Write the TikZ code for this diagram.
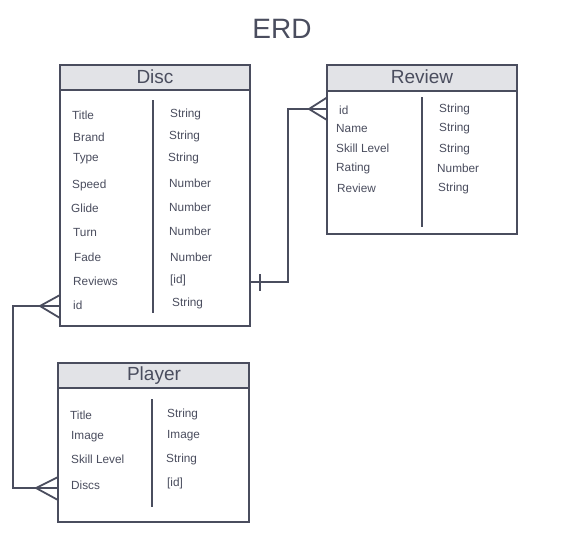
\documentclass[tikz,border=0pt]{standalone}
\usepackage{fontspec}
\setmainfont{Liberation Sans}
\definecolor{ink}{HTML}{4A4D5E}
\definecolor{head}{HTML}{E2E3E7}
\begin{document}
\begin{tikzpicture}[x=1pt,y=-1pt,
  box/.style={draw=ink,line width=1.8pt,fill=white,minimum width=#1,inner sep=0pt,outer sep=0pt},
  hdr/.style={draw=ink,line width=1.8pt,fill=head,minimum width=#1,minimum height=25pt,inner sep=0pt,outer sep=0pt},
  htext/.style={text=ink,font=\fontsize{19}{21}\selectfont},
  fld/.style={anchor=west,text=ink,inner sep=0pt,font=\fontsize{11.8}{13}\selectfont},
  divl/.style={draw=ink,line width=2.2pt},
  conn/.style={draw=ink,line width=1.8pt}]
\useasboundingbox (0,0) rectangle (575,543);
\node[text=ink,font=\fontsize{28}{30}\selectfont] (title) at (282,29) {ERD};

% Disc
\node[box=190pt,minimum height=261pt] (disc) at (155,195.5) {};
\node[hdr=190pt] (dischdr) at (155,77.5) {};
\node[htext] (disct) at (155,77) {Disc};
\coordinate (ddivt) at (153,100);
\coordinate (ddivb) at (153,313);
\draw[divl] (ddivt) -- (ddivb);
\node[fld] (d1) at (72,115) {Title};
\node[fld] (d2) at (73,137) {Brand};
\node[fld] (d3) at (73,159) {Type};
\node[fld] (d4) at (72,185) {Speed};
\node[fld] (d5) at (71,208) {Glide};
\node[fld] (d6) at (73,232) {Turn};
\node[fld] (d7) at (74,257) {Fade};
\node[fld] (d8) at (73,281) {Reviews};
\node[fld] (d9) at (73,305) {id};
\node[fld] (dt1) at (170,114) {String};
\node[fld] (dt2) at (169,136) {String};
\node[fld] (dt3) at (168,158) {String};
\node[fld] (dt4) at (169,183) {Number};
\node[fld] (dt5) at (169,207) {Number};
\node[fld] (dt6) at (169,231) {Number};
\node[fld] (dt7) at (170,257) {Number};
\node[fld] (dt8) at (170,280) {[id]};
\node[fld] (dt9) at (172,303) {String};

% Review
\node[box=190pt,minimum height=169pt] (review) at (422,149.5) {};
\node[hdr=190pt,minimum height=26pt] (revhdr) at (422,78) {};
\node[htext] (revt) at (422,77) {Review};
\coordinate (rdivt) at (422,97);
\coordinate (rdivb) at (422,227);
\draw[divl] (rdivt) -- (rdivb);
\node[fld] (r1) at (339,110) {id};
\node[fld] (r2) at (336,128) {Name};
\node[fld] (r3) at (336,148) {Skill Level};
\node[fld] (r4) at (336,168) {Rating};
\node[fld] (r5) at (337,188) {Review};
\node[fld] (rt1) at (439,109) {String};
\node[fld] (rt2) at (439,128) {String};
\node[fld] (rt3) at (439,149) {String};
\node[fld] (rt4) at (437,168) {Number};
\node[fld] (rt5) at (438,188) {String};

% Player
\node[box=191pt,minimum height=159pt] (player) at (153.5,442.5) {};
\node[hdr=191pt] (plhdr) at (153.5,375.5) {};
\node[htext] (plt) at (154,376) {Player};
\coordinate (pdivt) at (152,399);
\coordinate (pdivb) at (152,507);
\draw[divl] (pdivt) -- (pdivb);
\node[fld] (p1) at (70,415) {Title};
\node[fld] (p2) at (71,437) {Image};
\node[fld] (p3) at (71,459) {Skill Level};
\node[fld] (p4) at (71,485) {Discs};
\node[fld] (pt1) at (167,414) {String};
\node[fld] (pt2) at (167,436) {Image};
\node[fld] (pt3) at (166,459) {String};
\node[fld] (pt4) at (167,483) {[id]};

% Disc -- Review connector
\coordinate (c1a) at (250,282);
\coordinate (c1b) at (288,282);
\coordinate (c1c) at (288,109);
\coordinate (c1d) at (327,109);
\coordinate (c1f) at (309,109);
\coordinate (c1u) at (327,97.5);
\coordinate (c1l) at (327,120);
\coordinate (bar1) at (260,274);
\coordinate (bar2) at (260,291);
\draw[conn,line join=miter] (c1a) -- (c1b) -- (c1c) -- (c1d);
\draw[conn] (c1u) -- (c1f) -- (c1l);
\draw[conn] (bar1) -- (bar2);

% Disc -- Player connector
\coordinate (c2a) at (60,306);
\coordinate (c2f) at (40,306);
\coordinate (c2b) at (13,306);
\coordinate (c2c) at (13,488);
\coordinate (c2d) at (58,488);
\coordinate (c2g) at (36,488);
\coordinate (c2u) at (60,295);
\coordinate (c2l) at (60,318);
\coordinate (c2pu) at (58,477);
\coordinate (c2pl) at (58,500);
\draw[conn,line join=miter] (c2a) -- (c2b) -- (c2c) -- (c2d);
\draw[conn] (c2u) -- (c2f) -- (c2l);
\draw[conn] (c2pu) -- (c2g) -- (c2pl);
\end{tikzpicture}
\end{document}
